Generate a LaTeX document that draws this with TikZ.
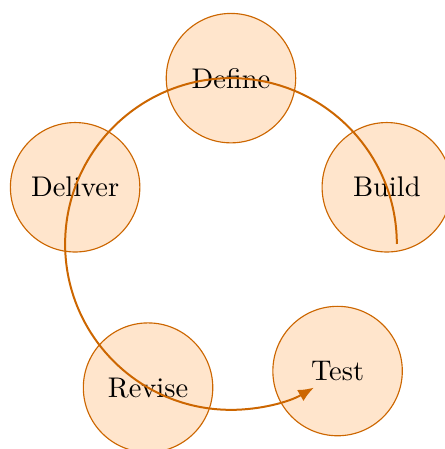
\documentclass[tikz,border=0pt]{standalone}
\usetikzlibrary{arrows.meta}

\begin{document}
\begin{tikzpicture}[stage/.style={circle, draw=orange!80!black, fill=orange!20, minimum size=1.6cm}]
    \useasboundingbox (-2.855,-2.534) rectangle (2.645,3.016);

    % stages round the cycle
    \node[stage] (define)  at (90:2.05)  {Define};
    \node[stage] (build)   at (20:2.05)  {Build};
    \node[stage] (test)    at (310:2.05) {Test};
    \node[stage] (revise)  at (240:2.05) {Revise};
    \node[stage] (deliver) at (160:2.05) {Deliver};

    % cycle arrow
    \coordinate (cyclestart) at (0:2.05);
    \draw[line width=0.7pt, orange!80!black, -{Latex[length=5.5pt, width=4.5pt]}] (cyclestart) arc[start angle=0, end angle=300, radius=2.05];
\end{tikzpicture}
\end{document}
